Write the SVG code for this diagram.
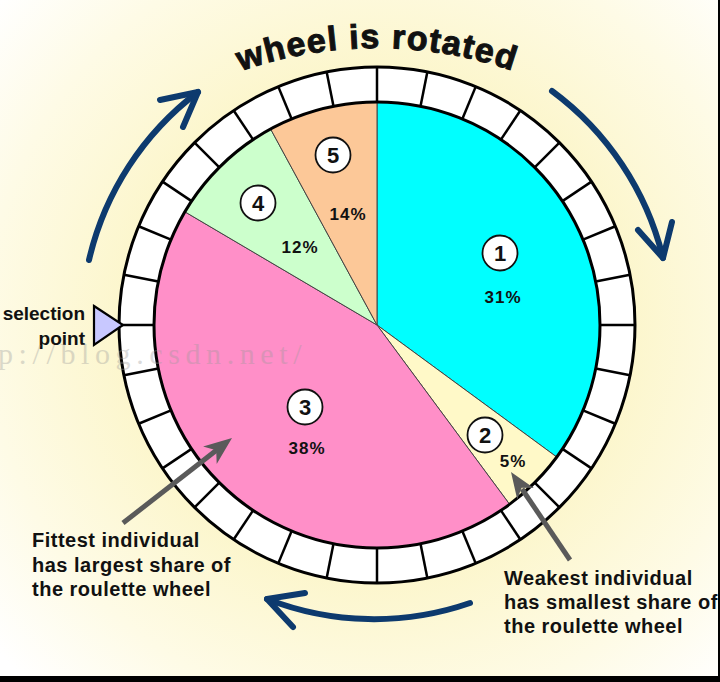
<svg xmlns="http://www.w3.org/2000/svg" width="720" height="682" viewBox="0 0 720 682">
<defs>
<radialGradient id="bg" cx="377" cy="325" r="500" gradientUnits="userSpaceOnUse">
<stop offset="0.5" stop-color="#fcf6cc"/>
<stop offset="0.78" stop-color="#fefbe6"/>
<stop offset="1" stop-color="#ffffff"/>
</radialGradient>
<path id="titleArc" d="M112.2,144.4 A412,412 0 0 1 641.8,144.4"/>
<style>
.lbl{font-family:"Liberation Sans",Arial,sans-serif;font-weight:bold;fill:#111}
.pct{font-size:17px;text-anchor:middle;letter-spacing:1px}
.num{font-size:22px;text-anchor:middle}
.cap{font-size:20px;letter-spacing:0.5px}
.badge{fill:#fff;stroke:#111;stroke-width:1.8}
.slice{stroke:#444;stroke-width:1}
.div line{stroke:#000;stroke-width:2.5}
.blue{fill:none;stroke:#0d3a6e;stroke-width:6;stroke-linecap:round;stroke-linejoin:round}
.gray{stroke:#5a5a5a;stroke-width:5;fill:none}
.grayhead{fill:#5a5a5a}
</style>
</defs>
<rect x="0" y="0" width="720" height="682" fill="url(#bg)"/>

<g id="title">
<text class="lbl" font-size="34" letter-spacing="1.3" stroke="#111" stroke-width="1"><textPath href="#titleArc" startOffset="50%" text-anchor="middle">wheel is rotated</textPath></text>
</g>

<g id="wheel">
<circle cx="377" cy="325" r="258" fill="#fff" stroke="#000" stroke-width="3"/>
<g class="div">
<line x1="377" y1="67" x2="377" y2="102" transform="rotate(0 377 325)"/>
<line x1="377" y1="67" x2="377" y2="102" transform="rotate(11.25 377 325)"/>
<line x1="377" y1="67" x2="377" y2="102" transform="rotate(22.5 377 325)"/>
<line x1="377" y1="67" x2="377" y2="102" transform="rotate(33.75 377 325)"/>
<line x1="377" y1="67" x2="377" y2="102" transform="rotate(45 377 325)"/>
<line x1="377" y1="67" x2="377" y2="102" transform="rotate(56.25 377 325)"/>
<line x1="377" y1="67" x2="377" y2="102" transform="rotate(67.5 377 325)"/>
<line x1="377" y1="67" x2="377" y2="102" transform="rotate(78.75 377 325)"/>
<line x1="377" y1="67" x2="377" y2="102" transform="rotate(90 377 325)"/>
<line x1="377" y1="67" x2="377" y2="102" transform="rotate(101.25 377 325)"/>
<line x1="377" y1="67" x2="377" y2="102" transform="rotate(112.5 377 325)"/>
<line x1="377" y1="67" x2="377" y2="102" transform="rotate(123.75 377 325)"/>
<line x1="377" y1="67" x2="377" y2="102" transform="rotate(135 377 325)"/>
<line x1="377" y1="67" x2="377" y2="102" transform="rotate(146.25 377 325)"/>
<line x1="377" y1="67" x2="377" y2="102" transform="rotate(157.5 377 325)"/>
<line x1="377" y1="67" x2="377" y2="102" transform="rotate(168.75 377 325)"/>
<line x1="377" y1="67" x2="377" y2="102" transform="rotate(180 377 325)"/>
<line x1="377" y1="67" x2="377" y2="102" transform="rotate(191.25 377 325)"/>
<line x1="377" y1="67" x2="377" y2="102" transform="rotate(202.5 377 325)"/>
<line x1="377" y1="67" x2="377" y2="102" transform="rotate(213.75 377 325)"/>
<line x1="377" y1="67" x2="377" y2="102" transform="rotate(225 377 325)"/>
<line x1="377" y1="67" x2="377" y2="102" transform="rotate(236.25 377 325)"/>
<line x1="377" y1="67" x2="377" y2="102" transform="rotate(247.5 377 325)"/>
<line x1="377" y1="67" x2="377" y2="102" transform="rotate(258.75 377 325)"/>
<line x1="377" y1="67" x2="377" y2="102" transform="rotate(270 377 325)"/>
<line x1="377" y1="67" x2="377" y2="102" transform="rotate(281.25 377 325)"/>
<line x1="377" y1="67" x2="377" y2="102" transform="rotate(292.5 377 325)"/>
<line x1="377" y1="67" x2="377" y2="102" transform="rotate(303.75 377 325)"/>
<line x1="377" y1="67" x2="377" y2="102" transform="rotate(315 377 325)"/>
<line x1="377" y1="67" x2="377" y2="102" transform="rotate(326.25 377 325)"/>
<line x1="377" y1="67" x2="377" y2="102" transform="rotate(337.5 377 325)"/>
<line x1="377" y1="67" x2="377" y2="102" transform="rotate(348.75 377 325)"/>
</g>
</g>

<g id="slice1">
<path class="slice" fill="#00ffff" d="M377,325 L377,102 A223,223 0 0 1 556.7,457 Z"/>
<circle class="badge" cx="500" cy="253" r="17.5"/>
<text class="lbl num" x="500" y="261">1</text>
<text class="lbl pct" x="503" y="303">31%</text>
</g>
<g id="slice2">
<path class="slice" fill="#fff9c8" d="M377,325 L556.7,457 A223,223 0 0 1 509.6,504.3 Z"/>
</g>
<g id="slice3">
<path class="slice" fill="#ff8fc8" d="M377,325 L509.6,504.3 A223,223 0 0 1 184.9,211.8 Z"/>
<circle class="badge" cx="305" cy="407" r="17.5"/>
<text class="lbl num" x="305" y="415">3</text>
<text class="lbl pct" x="307" y="454">38%</text>
</g>
<g id="slice4">
<path class="slice" fill="#ccffcc" d="M377,325 L184.9,211.8 A223,223 0 0 1 270.6,129 Z"/>
<circle class="badge" cx="258" cy="203" r="17.5"/>
<text class="lbl num" x="258" y="211">4</text>
</g>
<g id="slice5">
<path class="slice" fill="#fcc898" d="M377,325 L270.6,129 A223,223 0 0 1 377,102 Z"/>
<circle class="badge" cx="333" cy="155" r="17.5"/>
<text class="lbl num" x="333" y="163">5</text>
<text class="lbl pct" x="348" y="220">14%</text>
</g>
<text class="lbl pct" x="300" y="253">12%</text>
<g id="slice2labels">
<circle class="badge" cx="485" cy="435" r="17.5"/>
<text class="lbl num" x="485" y="443">2</text>
<text class="lbl pct" x="513" y="467">5%</text>
</g>
<circle cx="377" cy="325" r="223" fill="none" stroke="#000" stroke-width="3"/>

<g id="selection">
<polygon points="94,306 123,325 94,345" fill="#c8c8ff" stroke="#000" stroke-width="2.2" stroke-linejoin="miter"/>
<text class="lbl" font-size="19" text-anchor="end" x="85" y="320">selection</text>
<text class="lbl" font-size="19" text-anchor="end" x="85" y="345">point</text>
</g>

<g id="connectors">
<path class="blue" d="M89,260 A294,294 0 0 1 198,92"/>
<path class="blue" d="M160,100 L198,92 L183,127"/>
<path class="blue" d="M552,91 A294,294 0 0 1 663,258"/>
<path class="blue" d="M638,230 L663,258 L672,222"/>
<path class="blue" d="M470,603 A294,294 0 0 1 267,599"/>
<path class="blue" d="M305,593 L267,599 L293,627"/>
<line class="gray" x1="123" y1="523" x2="218" y2="449"/>
<polygon class="grayhead" points="232,438 216.7,463.9 216.2,450.3 203.1,446.5"/>
<line class="gray" x1="570" y1="560" x2="522" y2="489"/>
<polygon class="grayhead" points="511,472 533.8,488 521.6,487.8 517.2,499.2"/>
</g>

<g id="caption-fittest">
<text class="lbl cap" x="32" y="547">Fittest individual</text>
<text class="lbl cap" x="32" y="572">has largest share of</text>
<text class="lbl cap" x="32" y="596">the roulette wheel</text>
</g>
<g id="caption-weakest">
<text class="lbl cap" x="504" y="585">Weakest individual</text>
<text class="lbl cap" x="504" y="609">has smallest share of</text>
<text class="lbl cap" x="504" y="633">the roulette wheel</text>
</g>

<text x="-2" y="364" font-family="'Liberation Serif',serif" font-size="30" letter-spacing="5.6" fill="#9a9a9a" opacity="0.35">p://blog.csdn.net/</text>

<rect x="718" y="0" width="2" height="682" fill="#000"/>
<rect x="0" y="676" width="720" height="6" fill="#000"/>
</svg>
